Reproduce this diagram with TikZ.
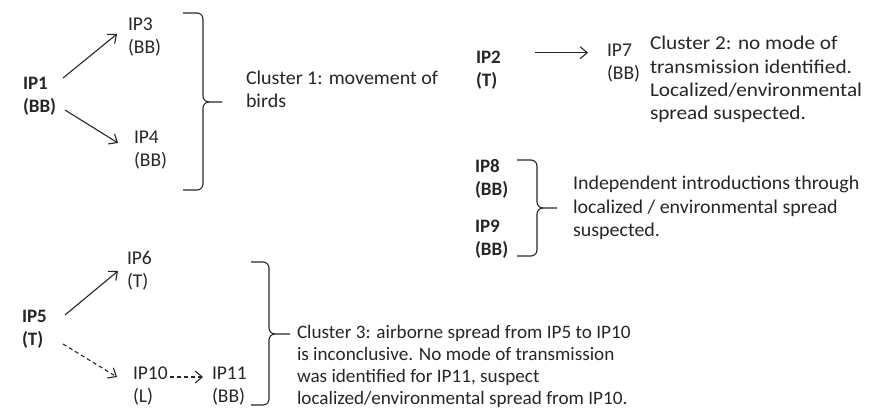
\documentclass[tikz,border=0pt]{standalone}
\usepackage{fontspec}
\setmainfont{Carlito}
\usetikzlibrary{arrows.meta,calc}
\newcommand{\mlines}[1]{\begin{tabular}[t]{@{}l@{}}#1\end{tabular}}
\newcommand{\drawbrace}[6]{% left, vertical, tip, top, mid, bottom
  \draw[bracestyle] (#1,#4) -- ({#2-6},#4) to[out=0,in=90] (#2,{#4+6}) -- (#2,{#5-6})
    to[out=-90,in=180] ({#2+6},#5) -- (#3,#5);
  \draw[bracestyle] ({#2+6},#5) to[out=180,in=90] (#2,{#5+6}) -- (#2,{#6-6})
    to[out=-90,in=0] ({#2-6},#6) -- (#1,#6);
}
\begin{document}
\begin{tikzpicture}[x=1pt,y=-1pt,
  every node/.style={inner sep=0pt, outer sep=0pt, anchor=base west, text=black!85,
    font=\fontsize{19.5}{23}\selectfont},
  ipb/.style={font=\fontsize{19}{23}\selectfont\bfseries},
  txtA/.style={font=\fontsize{19.5}{23}\selectfont\addfontfeature{FakeStretch=1.025}},
  txtB/.style={font=\fontsize{19.5}{23.3}\selectfont\addfontfeature{FakeStretch=1.09}},
  txtC/.style={font=\fontsize{19.5}{23.5}\selectfont\addfontfeature{FakeStretch=1.025}},
  txtD/.style={font=\fontsize{19}{22}\selectfont\addfontfeature{FakeStretch=1.01}},
  arr/.style={draw=black!85, line width=1.1pt, -{Straight Barb[length=7pt,width=12pt,line width=1.1pt]}},
  darr/.style={arr, dash pattern=on 4pt off 3pt},
  bracestyle/.style={draw=black!85, line width=1.1pt}]
\useasboundingbox (0,0) rectangle (885,419);
% cluster 1
\node[ipb] (ip1) at (23,90) {\mlines{IP1\\(BB)}};
\node (ip3) at (128,31) {\mlines{IP3\\(BB)}};
\node (ip4) at (134,143.5) {\mlines{IP4\\(BB)}};
\node[txtA] (c1) at (246,85) {\mlines{Cluster 1: movement of\\birds}};
\draw[arr] ($(ip1.base west)+(40,-12)$) -- ($(ip3.base west)+(-11,3)$);
\draw[arr] ($(ip1.base west)+(42,20)$) -- ($(ip4.base west)+(-16,-0.5)$);
\drawbrace{183}{203}{222}{13}{102}{190}
% cluster 2
\node[ipb] (ip2) at (476,63.5) {\mlines{IP2\\(T)}};
\node (ip7) at (607,57) {\mlines{IP7\\(BB)}};
\node[txtB] (c2) at (650,50) {\mlines{Cluster 2: no mode of\\transmission identified.\\Localized/environmental\\spread suspected.}};
\draw[arr] ($(ip2.base west)+(59,-10.8)$) -- ($(ip7.base west)+(-19,-4.3)$);
% independent
\node[ipb] (ip8) at (475,173) {\mlines{IP8\\(BB)}};
\node[ipb] (ip9) at (475,233) {\mlines{IP9\\(BB)}};
\node[txtC] (c4) at (573,190) {\mlines{Independent introductions through\\localized / environmental spread\\suspected.}};
\drawbrace{517}{537}{557}{160}{208}{256}
% cluster 3
\node[ipb] (ip5) at (22,322) {\mlines{IP5\\(T)}};
\node (ip6) at (127,265) {\mlines{IP6\\(T)}};
\node (ip10) at (133,379) {\mlines{IP10\\(L)}};
\node (ip11) at (212,379) {\mlines{IP11\\(BB)}};
\node[txtD] (c3) at (297,338) {\mlines{Cluster 3: airborne spread from IP5 to IP10\\is inconclusive. No mode of transmission\\was identified for IP11, suspect\\localized/environmental spread from IP10.}};
\draw[arr] ($(ip5.base west)+(43,-7)$) -- ($(ip6.base west)+(-9,6)$);
\draw[darr] ($(ip5.base west)+(41,22)$) -- ($(ip10.base west)+(-16,-2)$);
\draw[darr] ($(ip10.base west)+(37,-2)$) -- ($(ip11.base west)+(-9,-2)$);
\drawbrace{251}{269}{290}{262}{334}{405}
\end{tikzpicture}
\end{document}
